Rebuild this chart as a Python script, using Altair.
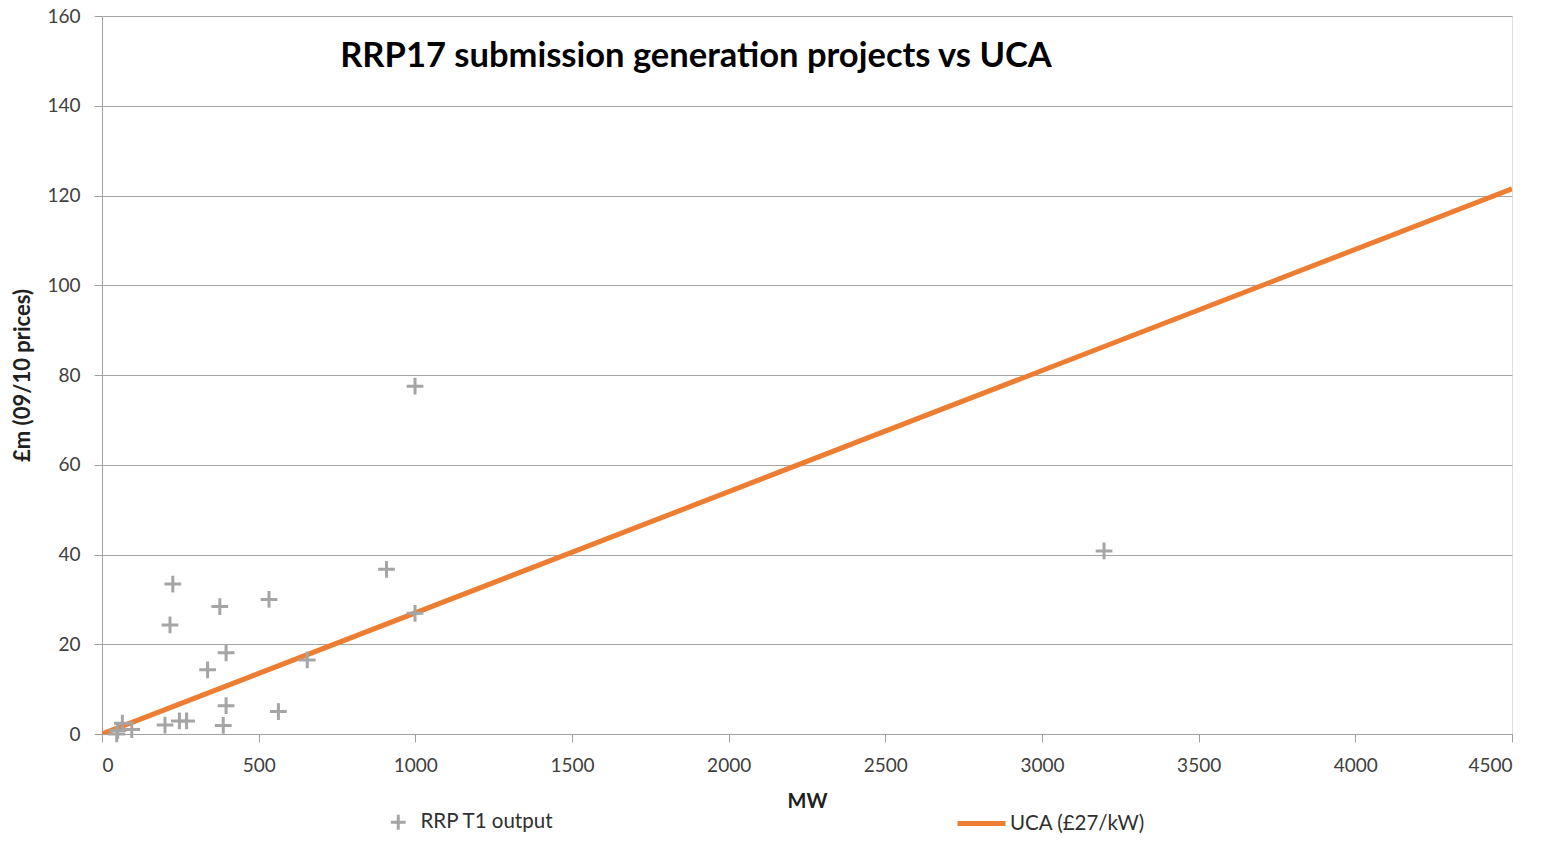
import altair as alt
import pandas as pd

# RRP T1 output points (MW, £m)
mw = [47, 50, 65, 95, 201, 217, 226, 247, 270, 337, 376, 387, 396, 396, 533, 563, 655, 908, 999, 999, 3198]
cost = [0.0, 0.8, 2.4, 1.0, 2.0, 24.3, 33.4, 2.9, 2.9, 14.3, 28.4, 1.9, 18.1, 6.3, 30.0, 5.0, 16.5, 36.7, 26.9, 77.5, 40.8]

# UCA line at £27/kW
uca_mw = [0, 4500]
uca_cost = [0.0, 121.5]

series_pts = "RRP T1 output"
series_line = "UCA (£27/kW)"
# zero-width non-joiner keeps the font from drawing a "ti" ligature
title_text = "RRP17 submission genera\u200ction projects vs UCA"

FONT = "Lato"

pts = pd.DataFrame({"MW": mw, "cost": cost, "series": series_pts})
line = pd.DataFrame({"MW": uca_mw, "cost": uca_cost, "series": series_line})

xscale = alt.Scale(domain=[0, 4500], nice=False, zero=True)
yscale = alt.Scale(domain=[0, 160], nice=False)

xaxis = alt.Axis(
    title="MW", values=list(range(0, 4501, 500)), format="d", grid=False,
    labelFont=FONT, labelFontSize=19, labelColor="#404040", labelPadding=14,
    titleFont=FONT, titleFontSize=20, titleFontWeight="bold", titleColor="#202020",
    titlePadding=16, tickSize=8, tickColor="#a0a0a0", domainColor="#a0a0a0",
)
yaxis = alt.Axis(
    title="£m (09/10 prices)", values=list(range(0, 161, 20)), grid=True,
    gridColor="#a6a6a6", gridWidth=1,
    labelFont=FONT, labelFontSize=19, labelColor="#404040", labelPadding=14,
    titleFont=FONT, titleFontSize=22, titleFontWeight="bold", titleColor="#202020",
    titlePadding=12, tickSize=8, tickColor="#a0a0a0", domainColor="#a0a0a0",
)

cross_path = "M-1,0L1,0M0,-1L0,1"

points = alt.Chart(pts).mark_point(
    shape=cross_path, filled=False, strokeWidth=3, size=280, opacity=1
).encode(
    x=alt.X("MW:Q", scale=xscale, axis=xaxis),
    y=alt.Y("cost:Q", scale=yscale, axis=yaxis),
    color=alt.Color(
        "series:N",
        scale=alt.Scale(domain=[series_pts], range=["#a5a5a5"]),
        legend=alt.Legend(
            title=None, orient="none", legendX=286, legendY=796,
            symbolType=cross_path, symbolSize=220, symbolStrokeWidth=3,
            symbolFillColor="transparent",
            labelFont=FONT, labelFontSize=20.5, labelColor="#303030", labelOffset=12,
        ),
    ),
)

uca = alt.Chart(line).mark_line(strokeWidth=5, clip=True).encode(
    x=alt.X("MW:Q", scale=xscale),
    y=alt.Y("cost:Q", scale=yscale),
    stroke=alt.Stroke(
        "series:N",
        scale=alt.Scale(domain=[series_line], range=["#ed7d31"]),
        legend=alt.Legend(
            title=None, orient="none", legendX=853, legendY=781,
            symbolType="stroke", symbolSize=2304, symbolStrokeWidth=5,
            labelFont=FONT, labelFontSize=20.5, labelColor="#303030", labelOffset=2,
        ),
    ),
)

title = alt.Chart(pd.DataFrame({"t": [title_text]})).mark_text(
    font=FONT, fontSize=34.5, fontWeight="bold", color="#000000",
    align="center", baseline="middle",
).encode(
    text="t:N", x=alt.value(594), y=alt.value(41),
)

chart = alt.layer(uca, points, title).resolve_scale(color="independent").properties(
    width=1410, height=718,
    autosize=alt.AutoSizeParams(type="none"),
    padding={"left": 94, "top": 8, "right": 30, "bottom": 100},
).configure_view(stroke="transparent").configure(background="white")

chart.save("out.html", embed_options={"renderer": "svg", "actions": False})
